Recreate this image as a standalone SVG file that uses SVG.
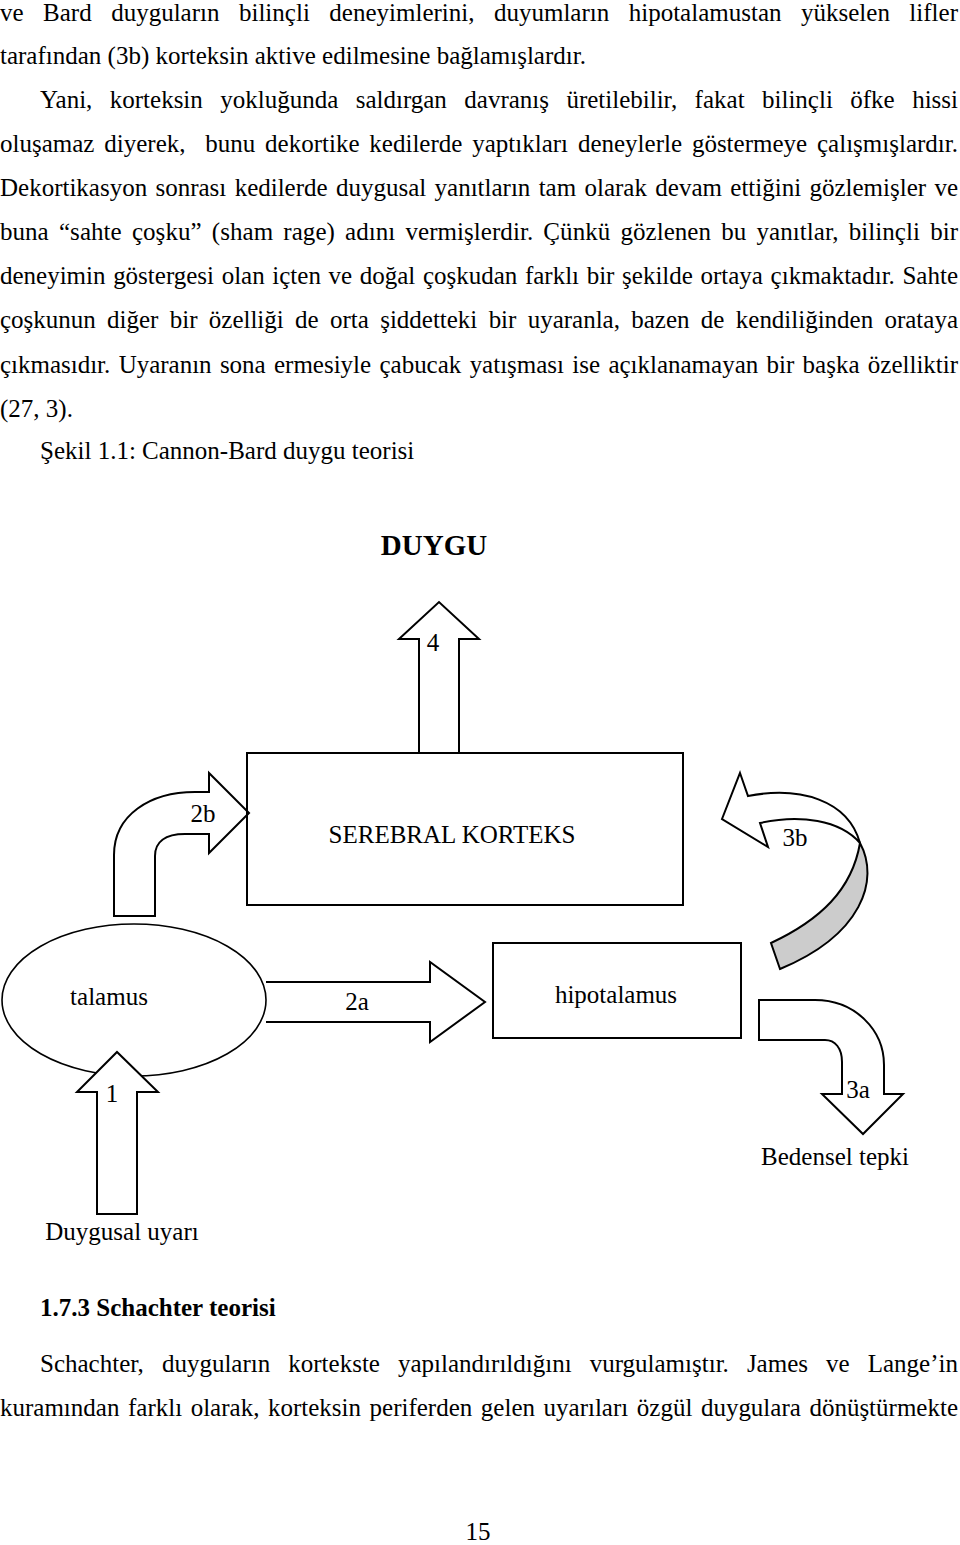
<svg xmlns="http://www.w3.org/2000/svg" width="960" height="1545" viewBox="0 0 960 1545">
<style>
.t{font-family:"Liberation Serif","Times New Roman",serif;font-size:25px;fill:#000}
.b{font-weight:bold}
.h{font-size:29px}
.s{fill:#fff;stroke:#000;stroke-width:2;stroke-linejoin:miter}
.g{fill:#cccccc;stroke:#000;stroke-width:2}
.l{font-family:"Liberation Serif","Times New Roman",serif;font-size:25px;fill:#000}
</style>
<rect width="960" height="1545" fill="#fff"/>
<g id="text-top">
<text class="t" x="0" y="21" word-spacing="13.2" textLength="958" lengthAdjust="spacing">ve Bard duyguların bilinçli deneyimlerini, duyumların hipotalamustan yükselen lifler</text>
<text class="t" x="0" y="64">tarafından (3b) korteksin aktive edilmesine bağlamışlardır.</text>
<text class="t" x="40" y="108" word-spacing="11.2" textLength="918" lengthAdjust="spacing">Yani, korteksin yokluğunda saldırgan davranış üretilebilir, fakat bilinçli öfke hissi</text>
<text class="t" x="0" y="152" word-spacing="3.6" textLength="958" lengthAdjust="spacing" xml:space="preserve">oluşamaz diyerek,  bunu dekortike kedilerde yaptıkları deneylerle göstermeye çalışmışlardır.</text>
<text class="t" x="0" y="196" word-spacing="2.1" textLength="958" lengthAdjust="spacing">Dekortikasyon sonrası kedilerde duygusal yanıtların tam olarak devam ettiğini gözlemişler ve</text>
<text class="t" x="0" y="240" word-spacing="3.9" textLength="958" lengthAdjust="spacing">buna “sahte çoşku” (sham rage) adını vermişlerdir. Çünkü gözlenen bu yanıtlar, bilinçli bir</text>
<text class="t" x="0" y="284" word-spacing="1.4" textLength="958" lengthAdjust="spacing">deneyimin göstergesi olan içten ve doğal çoşkudan farklı bir şekilde ortaya çıkmaktadır. Sahte</text>
<text class="t" x="0" y="328" word-spacing="5.1" textLength="958" lengthAdjust="spacing">çoşkunun diğer bir özelliği de orta şiddetteki bir uyaranla, bazen de kendiliğinden orataya</text>
<text class="t" x="0" y="373" word-spacing="2.1" textLength="958" lengthAdjust="spacing">çıkmasıdır. Uyaranın sona ermesiyle çabucak yatışması ise açıklanamayan bir başka özelliktir</text>
<text class="t" x="0" y="417">(27, 3).</text>
<text class="t" x="40" y="459">Şekil 1.1: Cannon-Bard duygu teorisi</text>
</g>
<g id="connectors">
<g id="arrow-4">
<path class="s" d="M419 753 L419 639 L399 639 L439 602 L479 639 L459 639 L459 753"/>
<text class="l" x="433" y="651" text-anchor="middle">4</text>
</g>
<g id="arrow-2b">
<path class="s" d="M114 916 L114 855 C114 815 150 792 195 792 L209 792 L209 773 L249 813 L209 853 L209 834 L185 834 C165 834 155 842 155 856 L155 916 Z"/>
<text class="l" x="203" y="822" text-anchor="middle">2b</text>
</g>
<g id="arrow-3b">
<path class="g" d="M860 843 C880 880 862 935 780 969 L771 943 C820 920 852 890 860 843 Z"/>
<path class="s" d="M740 773 L748 796 C800 786 848 800 860 843 C840 820 800 814 760 823 L768 847 L722 819 Z"/>
<text class="l" x="795" y="846" text-anchor="middle">3b</text>
</g>
<g id="arrow-2a">
<path class="s" d="M266 982 L430 982 L430 962 L485 1002 L430 1042 L430 1022 L266 1022"/>
<text class="l" x="357" y="1010" text-anchor="middle">2a</text>
</g>
<g id="arrow-3a">
<path class="s" d="M759 1000 L815 1000 C855 1000 884 1030 884 1065 L884 1094 L903 1094 L863 1134 L822 1094 L842 1094 L842 1062 C842 1048 835 1040 825 1040 L759 1040 Z"/>
<text class="l" x="858" y="1098" text-anchor="middle">3a</text>
</g>
</g>
<g id="node-duygu">
<text class="t b h" x="434" y="555" text-anchor="middle">DUYGU</text>
</g>
<g id="node-korteks">
<rect x="247" y="753" width="436" height="152" fill="none" stroke="#000" stroke-width="2"/>
<text class="l" x="452" y="843" text-anchor="middle">SEREBRAL KORTEKS</text>
</g>
<g id="node-talamus">
<ellipse cx="134" cy="1000" rx="132" ry="76" fill="none" stroke="#000" stroke-width="1.6"/>
<text class="l" x="109" y="1005" text-anchor="middle">talamus</text>
</g>
<g id="node-hipotalamus">
<rect x="493" y="943" width="248" height="95" fill="none" stroke="#000" stroke-width="2"/>
<text class="l" x="616" y="1003" text-anchor="middle">hipotalamus</text>
</g>
<g id="arrow-1">
<path class="s" d="M97 1214 L97 1092 L77 1092 L117 1052 L158 1092 L137 1092 L137 1214 Z"/>
<text class="l" x="112" y="1102" text-anchor="middle">1</text>
</g>
<g id="node-bedensel">
<text class="l" x="835" y="1165" text-anchor="middle">Bedensel tepki</text>
</g>
<g id="node-uyari">
<text class="l" x="122" y="1240" text-anchor="middle">Duygusal uyarı</text>
</g>
<g id="text-bottom">
<text class="t b" x="40" y="1316">1.7.3 Schachter teorisi</text>
<text class="t" x="40" y="1372" word-spacing="11.8" textLength="918" lengthAdjust="spacing">Schachter, duyguların kortekste yapılandırıldığını vurgulamıştır. James ve Lange’in</text>
<text class="t" x="0" y="1416" word-spacing="2.3" textLength="958" lengthAdjust="spacing">kuramından farklı olarak, korteksin periferden gelen uyarıları özgül duygulara dönüştürmekte</text>
<text class="t" x="478" y="1540" text-anchor="middle">15</text>
</g>
</svg>
